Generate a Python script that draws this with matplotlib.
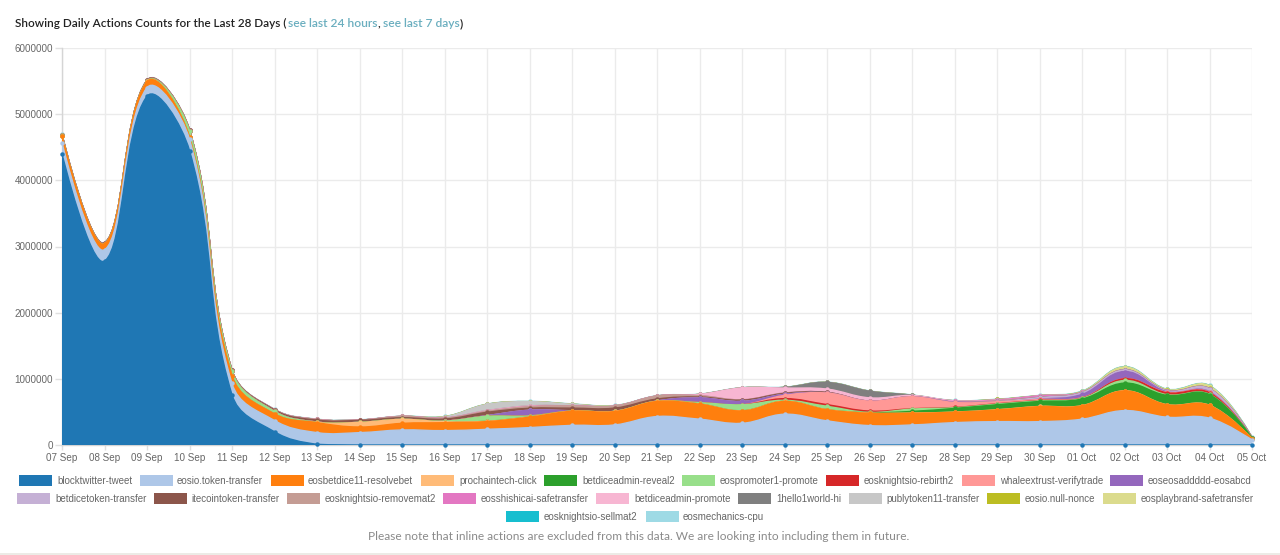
import numpy as np
import matplotlib
matplotlib.use("Agg")
import matplotlib.pyplot as plt
from matplotlib.path import Path
from matplotlib.patches import PathPatch, Rectangle

W, H = 1280, 555
DPI = 100

days = ["07 Sep","08 Sep","09 Sep","10 Sep","11 Sep","12 Sep","13 Sep","14 Sep","15 Sep","16 Sep",
        "17 Sep","18 Sep","19 Sep","20 Sep","21 Sep","22 Sep","23 Sep","24 Sep","25 Sep","26 Sep",
        "27 Sep","28 Sep","29 Sep","30 Sep","01 Oct","02 Oct","03 Oct","04 Oct","05 Oct"]

names = ["blocktwitter-tweet","eosio.token-transfer","eosbetdice11-resolvebet","prochaintech-click",
         "betdiceadmin-reveal2","eospromoter1-promote","eosknightsio-rebirth2","whaleextrust-verifytrade",
         "eoseosaddddd-eosabcd","betdicetoken-transfer","itecointoken-transfer","eosknightsio-removemat2",
         "eosshishicai-safetransfer","betdiceadmin-promote","1hello1world-hi","publytoken11-transfer",
         "eosio.null-nonce","eosplaybrand-safetransfer","eosknightsio-sellmat2","eosmechanics-cpu"]

colors = ["#1f77b4","#aec7e8","#ff7f0e","#ffbb78","#2ca02c","#98df8a","#d62728","#ff9896","#9467bd","#c5b0d5",
          "#8c564b","#c49c94","#e377c2","#f7b6d2","#7f7f7f","#c7c7c7","#bcbd22","#dbdb8d","#17becf","#9edae5"]

# Daily action counts, thousands
blocktwitter = [4400,2780,5270,4450,760,200,10,0,0,0,0,0,0,0,0,0,0,0,0,0,0,0,0,0,0,0,0,0,0]
eosio_token  = [170,170,130,170,170,170,177,187,227,217,237,263,297,303,430,390,328,465,365,293,303,338,353,353,390,520,420,405,75]
eosbetdice   = [100,90,90,30,120,100,150,85,100,120,117,157,212,202,227,227,187,192,167,187,177,157,177,227,202,297,187,192,20]
prochain     = [0,0,5,0,0,0,5,70,60,15,5,5,3,3,3,3,3,3,3,3,3,3,3,3,3,3,3,3,0]
reveal2      = [0,0,0,0,0,0,0,0,0,0,0,0,0,0,0,0,0,0,0,5,25,55,75,75,100,115,140,160,10]
promoter1    = [10,5,5,100,70,40,5,0,0,10,75,15,0,0,0,20,90,15,50,5,35,10,10,10,10,40,10,5,3]
rebirth2     = [0,0,0,0,0,0,0,0,0,0,0,0,0,0,0,0,0,25,25,20,5,5,5,5,5,25,30,25,0]
whale        = [0,0,0,0,0,0,0,0,0,0,0,0,0,0,0,0,0,50,175,150,180,75,30,15,5,0,5,5,0]
eosabcd      = [0,0,0,0,0,0,0,0,0,0,10,85,5,0,5,70,50,15,0,0,0,5,0,5,50,110,10,10,0]
betdicetoken = [0,0,0,0,0,0,0,0,0,0,0,0,0,0,0,0,0,0,0,0,0,0,5,25,25,25,15,45,5]
itecoin      = [10,10,10,10,10,20,30,30,25,30,50,30,40,50,30,15,20,15,10,0,0,0,0,0,0,0,0,0,0]
removemat2   = [0,0,0,0,0,5,10,5,20,15,15,25,35,30,45,20,5,5,0,0,0,0,10,5,0,0,0,0,0]
shishicai    = [0,0,0,0,0,0,0,0,0,0,0,0,0,0,0,0,0,0,0,0,0,10,10,20,5,0,0,0,0]
admin_promo  = [0,0,0,0,0,0,0,0,0,0,10,10,0,0,0,20,180,75,50,50,20,10,5,0,0,0,0,0,0]
hello        = [0,0,0,0,0,0,0,0,0,0,0,0,0,0,0,0,0,10,100,100,5,0,0,0,0,0,0,0,0]
publy        = [0,0,0,0,0,0,0,0,0,20,95,65,25,5,0,0,0,0,0,0,0,0,0,0,0,0,0,0,0]
null_nonce   = [0,0,0,0,0,0,0,0,0,0,0,0,0,0,0,0,0,0,0,0,0,0,5,3,5,5,5,5,0]
playbrand    = [0,0,0,0,0,0,0,0,0,0,0,0,0,0,0,0,0,0,0,0,0,0,0,0,10,40,15,40,0]
sellmat2     = [0,0,0,0,0,0,0,0,0,0,0,0,0,0,0,0,0,0,0,0,0,0,0,0,0,0,0,0,0]
mechanics    = [5,5,5,5,5,5,5,5,5,5,5,5,5,5,5,5,5,5,5,5,5,5,5,5,5,5,5,5,5]

series = [blocktwitter,eosio_token,eosbetdice,prochain,reveal2,promoter1,rebirth2,whale,eosabcd,betdicetoken,
          itecoin,removemat2,shishicai,admin_promo,hello,publy,null_nonce,playbrand,sellmat2,mechanics]

yticks = [0,1000000,2000000,3000000,4000000,5000000,6000000]

fig = plt.figure(figsize=(W/DPI, H/DPI), dpi=DPI, facecolor="white")
ax = fig.add_axes([62/W, 1-445/H, (1252-62)/W, (445-48)/H])
ax.set_xlim(0, len(days)-1)
ax.set_ylim(0, 6000000)
ax.set_facecolor("white")
for s in ("top","right"):
    ax.spines[s].set_visible(False)
for s in ("left","bottom"):
    ax.spines[s].set_color("#d5d5d5")
    ax.spines[s].set_linewidth(1)
ax.set_axisbelow(True)
ax.grid(True, color="#ebebeb", linewidth=1)
ax.set_xticks(range(len(days)))
ax.set_xticklabels(days)
ax.set_yticks(yticks)
ax.set_yticklabels([str(v) for v in yticks])
ax.tick_params(axis="x", length=3.6, width=1, color="#e0e0e0", labelcolor="#666666", labelsize=7.1, pad=2.5)
ax.tick_params(axis="y", length=5, width=1, color="#e0e0e0", labelcolor="#666666", labelsize=7.1, pad=1.4)
for lab in ax.get_xticklabels()+ax.get_yticklabels():
    lab.set_family("Liberation Sans")

x = np.arange(len(days), dtype=float)

def spline_path(xs, ys, tension=0.4):
    """Smooth stacked-line edge: cubic segments through the data points."""
    px = ax.transData.transform(np.column_stack([xs, ys]))
    n = len(px)
    before, after = px.copy(), px.copy()
    for i in range(1, n-1):
        d01 = np.hypot(*(px[i]-px[i-1]))
        d12 = np.hypot(*(px[i+1]-px[i]))
        tot = d01+d12
        if tot == 0:
            continue
        v = px[i+1]-px[i-1]
        before[i] = px[i]-tension*d01/tot*v
        after[i] = px[i]+tension*d12/tot*v
    inv = ax.transData.inverted()
    b, a = inv.transform(before), inv.transform(after)
    b[:,1] = np.maximum(b[:,1], 0)
    a[:,1] = np.maximum(a[:,1], 0)
    verts = [(xs[0], ys[0])]
    codes = [Path.MOVETO]
    for i in range(n-1):
        verts += [tuple(a[i]), tuple(b[i+1]), (xs[i+1], ys[i+1])]
        codes += [Path.CURVE4]*3
    return verts, codes

stack = np.cumsum(np.array(series, dtype=float)*1000, axis=0)

for k in range(len(series)-1, -1, -1):
    z = 3 + (len(series)-k)*0.1
    verts, codes = spline_path(x, stack[k])
    fill_v = verts + [(x[-1], 0), (x[0], 0), (x[0], stack[k][0]), (x[0], stack[k][0])]
    fill_c = codes + [Path.LINETO, Path.LINETO, Path.LINETO, Path.CLOSEPOLY]
    ax.add_patch(PathPatch(Path(fill_v, fill_c), facecolor=colors[k], edgecolor="none", zorder=z))
    ax.add_patch(PathPatch(Path(verts, codes), facecolor="none", edgecolor=colors[k], linewidth=1.0, zorder=z+0.01))
    ax.plot(x, stack[k], linestyle="none", marker="o", markersize=3.2, markeredgewidth=0,
            color=colors[k], zorder=z+0.02, clip_on=False)

def fx(p): return p/W
def fy(p): return 1-p/H

# Legend, placed on the reference's rows
legend_rows = [
    (480.5, 475, 11, [(19,57),(140,177),(271,308),(421,459),(544,582),(682,720),(826,864),(962,1000),(1110,1148)]),
    (498.5, 493, 11, [(17,55),(154,191),(287,325),(443,481),(596,634),(738,776),(849,886),(987,1025),(1103,1141)]),
    (516.5, 511, 11, [(506,544),(646,683)]),
]
i = 0
for ytext, ytop, h, cells in legend_rows:
    for sx, tx in cells:
        fig.add_artist(Rectangle((fx(sx), fy(ytop+h)), 33/W, h/H, transform=fig.transFigure,
                                 facecolor=colors[i], edgecolor="none"))
        fig.text(fx(tx), fy(ytext), names[i], ha="left", va="center", color="#666666",
                 fontsize=7.05, family="Liberation Sans")
        i += 1

# Title
title_parts = [("Showing Daily Actions Counts for the Last 28 Days (", 15, "#222222", 8.45),
               ("see last 24 hours", 288, "#6aaebf", 8.65),
               (",", 377, "#222222", 8.45),
               ("see last 7 days", 383, "#6aaebf", 8.65),
               (")", 460, "#222222", 8.45)]
for txt, px_, col, size in title_parts:
    fig.text(fx(px_), fy(23.5), txt, ha="left", va="center", color=col, fontsize=size,
             family="Lato", fontweight="semibold")

fig.text(fx(639), fy(536.5), "Please note that inline actions are excluded from this data. We are looking into including them in future.",
         ha="center", va="center", color="#8a8a8a", fontsize=8.6, family="Lato")

fig.add_artist(Rectangle((0, 0), 1, 2.5/H, transform=fig.transFigure, facecolor="#ecebe6", edgecolor="none"))

fig.savefig("out.png", dpi=DPI, facecolor="white")
